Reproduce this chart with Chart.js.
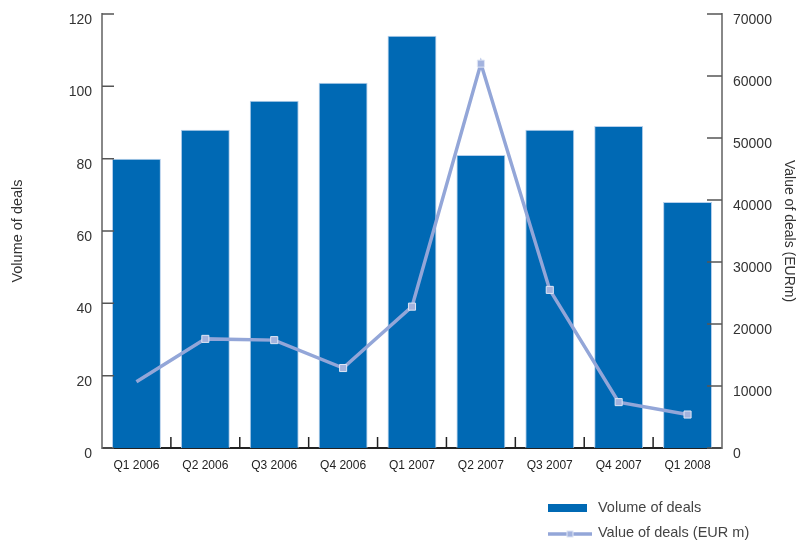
<!DOCTYPE html>
<html>
<head>
<meta charset="utf-8">
<script src="https://cdn.jsdelivr.net/npm/chart.js@4"></script>
<style>
  html, body { margin: 0; padding: 0; background: #fff; }
  #wrap { width: 797px; height: 541px; position: relative; }
</style>
</head>
<body>
<div id="wrap"><canvas id="dealsChart"></canvas></div>
<script>
const quarters = ['Q1 2006', 'Q2 2006', 'Q3 2006', 'Q4 2006', 'Q1 2007', 'Q2 2007', 'Q3 2007', 'Q4 2007', 'Q1 2008'];
const volumeOfDeals = [80, 88, 96, 101, 114, 81, 88, 89, 68];
const valueOfDeals = [10700, 17600, 17400, 12900, 22800, 62000, 25500, 7400, 5400];
const leftTicks = [0, 20, 40, 60, 80, 100, 120];
const rightTicks = [0, 10000, 20000, 30000, 40000, 50000, 60000, 70000];

const barBlue = '#0069b4';
const lineBlue = '#93a6d8';
const fontFamily = '"Liberation Sans", Arial, Helvetica, sans-serif';

// inward tick marks + category separators
const innerTicks = {
  id: 'innerTicks',
  afterDatasetsDraw(chart) {
    const { ctx, chartArea, scales } = chart;
    ctx.save();
    ctx.lineWidth = 1.5;
    ctx.strokeStyle = '#555';
    ctx.beginPath();
    scales.y.ticks.forEach((t, i) => {
      const y = scales.y.getPixelForTick(i);
      ctx.moveTo(chartArea.left, y);
      ctx.lineTo(chartArea.left + 12, y);
    });
    scales.y2.ticks.forEach((t, i) => {
      const y = scales.y2.getPixelForTick(i);
      ctx.moveTo(chartArea.right, y);
      ctx.lineTo(chartArea.right - 15, y);
    });
    ctx.stroke();
    ctx.strokeStyle = '#222';
    ctx.beginPath();
    for (let i = 1; i < quarters.length; i++) {
      const x = (scales.x.getPixelForTick(i - 1) + scales.x.getPixelForTick(i)) / 2;
      ctx.moveTo(x, chartArea.bottom);
      ctx.lineTo(x, chartArea.bottom - 11);
    }
    ctx.stroke();
    ctx.restore();
  }
};

// legend stacked at bottom right
const stackedLegend = {
  id: 'stackedLegend',
  afterDraw(chart) {
    const { ctx } = chart;
    const x0 = 548, textX = 598;
    ctx.save();
    ctx.font = '14.5px ' + fontFamily;
    ctx.fillStyle = '#444';
    ctx.textBaseline = 'middle';
    ctx.fillText(chart.data.datasets[0].label, textX, 508);
    ctx.fillText(chart.data.datasets[1].label, textX, 533);
    ctx.fillStyle = barBlue;
    ctx.fillRect(x0, 504, 39, 8);
    ctx.strokeStyle = lineBlue;
    ctx.lineWidth = 3.5;
    ctx.beginPath();
    ctx.moveTo(x0, 534);
    ctx.lineTo(x0 + 44, 534);
    ctx.stroke();
    ctx.fillStyle = '#a3b3de';
    ctx.strokeStyle = '#dfe6f5';
    ctx.lineWidth = 1;
    ctx.fillRect(x0 + 19, 531, 6, 6);
    ctx.strokeRect(x0 + 19, 531, 6, 6);
    ctx.restore();
  }
};

function fitSide(width) {
  return function (scale) {
    scale.width = width;
    scale.paddingTop = 0;
    scale.paddingBottom = 0;
  };
}

const ctx = document.getElementById('dealsChart').getContext('2d');
new Chart(ctx, {
  data: {
    labels: quarters,
    datasets: [
      {
        type: 'bar',
        label: 'Volume of deals',
        data: volumeOfDeals,
        yAxisID: 'y',
        backgroundColor: barBlue,
        borderColor: '#b5cfec',
        borderWidth: 1,
        barPercentage: 0.71,
        categoryPercentage: 1,
        order: 2
      },
      {
        type: 'line',
        label: 'Value of deals (EUR m)',
        data: valueOfDeals,
        yAxisID: 'y2',
        borderColor: lineBlue,
        borderWidth: 3.5,
        tension: 0,
        pointStyle: 'rect',
        pointRadius: valueOfDeals.map((v, i) => i === 0 ? 0 : 5),
        pointBackgroundColor: '#a3b3de',
        pointBorderColor: '#dfe6f5',
        pointBorderWidth: 1,
        order: 1
      }
    ]
  },
  options: {
    responsive: true,
    maintainAspectRatio: false,
    animation: false,
    layout: { padding: { top: 14, left: 0, right: 0, bottom: 0 } },
    plugins: {
      legend: { display: false },
      tooltip: { enabled: false }
    },
    scales: {
      x: {
        grid: { display: false, drawTicks: false },
        border: { display: true, color: '#222', width: 2 },
        ticks: {
          color: '#222',
          font: { family: fontFamily, size: 12 },
          padding: 10,
          maxRotation: 0,
          autoSkip: false
        },
        afterFit(scale) { scale.height = 93; }
      },
      y: {
        position: 'left',
        min: 0,
        max: 120,
        afterBuildTicks(scale) { scale.ticks = leftTicks.map(v => ({ value: v })); },
        grid: { display: false, drawTicks: false },
        border: { display: true, color: '#888', width: 2 },
        ticks: {
          color: '#333',
          font: { family: fontFamily, size: 14 },
          padding: 10,
          labelOffset: 6
        },
        title: {
          display: true,
          text: 'Volume of deals',
          color: '#333',
          font: { family: fontFamily, size: 14.5 },
          padding: { top: 9, bottom: 0 }
        },
        afterFit: fitSide(102)
      },
      y2: {
        position: 'right',
        min: 0,
        max: 70000,
        afterBuildTicks(scale) { scale.ticks = rightTicks.map(v => ({ value: v })); },
        grid: { display: false, drawTicks: false },
        border: { display: true, color: '#888', width: 2 },
        ticks: {
          color: '#333',
          font: { family: fontFamily, size: 14 },
          padding: 11,
          labelOffset: 6,
          callback: v => String(v)
        },
        title: {
          display: true,
          text: 'Value of deals (EURm)',
          color: '#333',
          font: { family: fontFamily, size: 14 },
          padding: { top: 0, bottom: 0 }
        },
        afterFit: fitSide(75)
      }
    }
  },
  plugins: [innerTicks, stackedLegend]
});
</script>
</body>
</html>
